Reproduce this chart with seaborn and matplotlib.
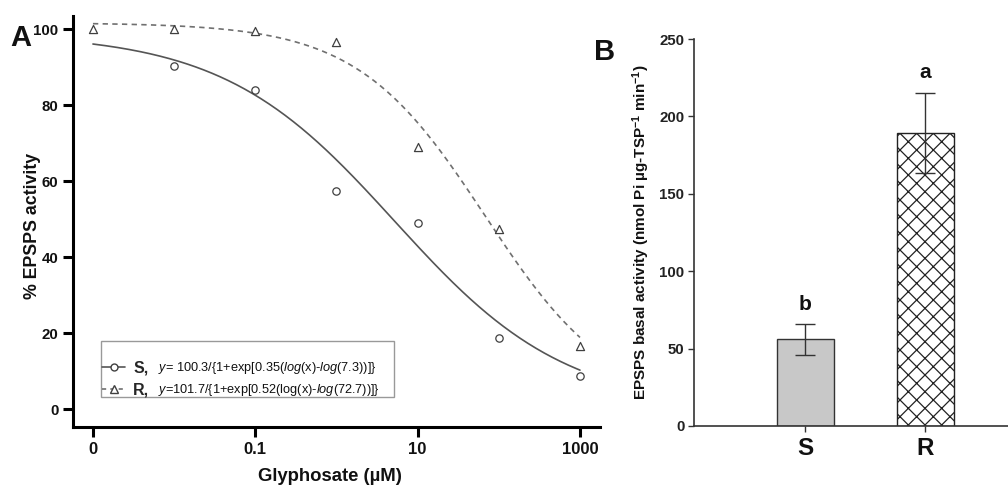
import numpy as np
import pandas as pd
import matplotlib
matplotlib.use("Agg")
import matplotlib.pyplot as plt
from matplotlib.lines import Line2D
from matplotlib.patches import Rectangle
import seaborn as sns

# ---------------- data ----------------
dose_ticks = [0.001, 0.1, 10, 1000]                      # "0" plotted at 0.001
dose_ticklabels = ["0", "0.1", "10", "1000"]
S_dose = [0.01, 0.1, 1, 10, 100, 1000]
S_pct = [90.3, 84.0, 57.4, 49.1, 18.8, 8.7]
R_dose = [0.001, 0.01, 0.1, 1, 10, 100, 1000]
R_pct = [100.2, 100.0, 99.6, 96.6, 69.0, 47.5, 16.7]
# fitted log-logistic curves: top, slope, EC50
S_fit = [99.0, 0.41, 5.2]
R_fit = [101.7, 0.55, 68.0]
S_eq = r"$y$= 100.3/{1+exp[0.35($log$(x)-$log$(7.3))]}"
R_eq = r"$y$=101.7/{1+exp[0.52(log(x)-$log$(72.7))]}"

groups = ["S", "R"]
basal = [56.0, 189.5]
basal_se = [10.0, 26.0]
sig_letters = ["b", "a"]

# ---------------- style ----------------
sns.set_theme(style="ticks")
plt.rcParams["font.family"] = ["Liberation Sans", "DejaVu Sans"]
plt.rcParams["mathtext.fontset"] = "custom"
plt.rcParams["mathtext.rm"] = "Liberation Sans"
plt.rcParams["mathtext.it"] = "Liberation Sans:italic"
plt.rcParams["mathtext.bf"] = "Liberation Sans:bold"
plt.rcParams["hatch.linewidth"] = 0.9

fig = plt.figure(figsize=(10.08, 4.86), dpi=100)
fig.patch.set_facecolor("white")

# ================= Panel A =================
ax1 = fig.add_axes([0.0724, 0.1214, 0.5228, 0.8457])
xs = np.logspace(-3, 3, 300)
def loglogistic(x, p):
    top, b, ec = p
    return top / (1 + np.exp(b * (np.log(x) - np.log(ec))))

curve_df = pd.DataFrame({"x": np.concatenate([xs, xs]),
                         "y": np.concatenate([loglogistic(xs, S_fit), loglogistic(xs, R_fit)]),
                         "g": ["S"] * len(xs) + ["R"] * len(xs)})
sns.lineplot(data=curve_df[curve_df.g == "S"], x="x", y="y", ax=ax1,
             color="#555555", lw=1.2, legend=False)
sns.lineplot(data=curve_df[curve_df.g == "R"], x="x", y="y", ax=ax1,
             color="#707070", lw=1.2, legend=False, linestyle=(0, (3.2, 2.6)))
sns.scatterplot(x=S_dose, y=S_pct, ax=ax1, marker="o", s=28,
                facecolor="white", edgecolor="#404040", linewidth=0.9, zorder=3)
sns.scatterplot(x=R_dose, y=R_pct, ax=ax1, marker="^", s=34,
                facecolor="white", edgecolor="#404040", linewidth=0.9, zorder=3)

ax1.set_xscale("log")
ax1.set_xlim(10 ** -3.246, 10 ** 3.246)
ax1.set_ylim(-4.7, 103.5)
ax1.set_xticks(dose_ticks)
ax1.set_xticklabels(dose_ticklabels)
ax1.minorticks_off()
ax1.set_yticks([0, 20, 40, 60, 80, 100])
for s in ["top", "right"]:
    ax1.spines[s].set_visible(False)
for s in ["left", "bottom"]:
    ax1.spines[s].set_linewidth(2.2)
    ax1.spines[s].set_color("black")
ax1.tick_params(axis="both", direction="out", length=7, width=2.2, color="black",
                labelcolor="#111111", pad=4)
ax1.tick_params(axis="x", labelsize=12)
ax1.tick_params(axis="y", labelsize=10.8, pad=3.5)
for lab in ax1.get_xticklabels() + ax1.get_yticklabels():
    lab.set_fontweight("bold")
ax1.set_xlabel("Glyphosate (µM)", fontsize=13.3, fontweight="bold", color="#111111")
ax1.set_ylabel("% EPSPS activity", fontsize=12.8, fontweight="bold", color="#111111")
ax1.xaxis.set_label_coords(0.488, -0.100)
ax1.yaxis.set_label_coords(-0.060, 0.49)

# legend
handles = [Line2D([], [], color="#555555", lw=1.2, marker="o", markersize=5,
                  markerfacecolor="white", markeredgecolor="#404040"),
           Line2D([], [], color="#707070", lw=1.2, linestyle=(0, (2.5, 2.5)), marker="^",
                  markersize=5.5, markerfacecolor="white", markeredgecolor="#404040")]
leg = ax1.legend(handles, [g + "," for g in groups], loc="center left",
                 bbox_to_anchor=(0.055, 0.117), frameon=False, borderpad=0, borderaxespad=0,
                 handlelength=1.45, handletextpad=0.5, labelspacing=0.42,
                 prop={"weight": "bold", "size": 11.5})
ax1.add_patch(Rectangle((0.053, 0.073), 0.556, 0.137, transform=ax1.transAxes,
                        facecolor="none", edgecolor="#999999", lw=1, clip_on=False, zorder=4))
ax1.text(0.161, 0.143, S_eq, transform=ax1.transAxes, fontsize=9.2, va="center",
         ha="left", color="#111111")
ax1.text(0.161, 0.090, R_eq, transform=ax1.transAxes, fontsize=9.2, va="center",
         ha="left", color="#111111")

# ================= Panel B =================
ax2 = fig.add_axes([0.6885, 0.1235, 0.3115, 0.796])
bar_df = pd.DataFrame({"group": groups, "value": basal})
sns.barplot(data=bar_df, x="group", y="value", hue="group", palette=["#c8c8c8", "white"],
            order=groups, hue_order=groups, width=0.475, errorbar=None, legend=False,
            edgecolor="#333333", linewidth=1.0, ax=ax2)
for p in ax2.patches:
    cx = p.get_x() + p.get_width() / 2
    if abs(cx - 1) < 0.3:
        p.set_hatch("xx")
        p.set_facecolor("white")
        p.set_edgecolor("#222222")
ax2.errorbar(x=[0, 1], y=basal, yerr=basal_se, fmt="none", ecolor="#333333",
             elinewidth=1.0, capsize=7.5, capthick=1.0, zorder=5)
for i, (v, e, l) in enumerate(zip(basal, basal_se, sig_letters)):
    ax2.text(i, v + e + 6.5, l, ha="center", va="bottom", fontsize=15,
             fontweight="bold", color="#111111")

ax2.set_xlim(-0.925, 1.69)
ax2.set_ylim(0, 250)
ax2.set_yticks([0, 50, 100, 150, 200, 250])
for s in ["top", "right"]:
    ax2.spines[s].set_visible(False)
for s in ["left", "bottom"]:
    ax2.spines[s].set_linewidth(1.2)
    ax2.spines[s].set_color("#333333")
ax2.tick_params(axis="y", direction="out", length=4, width=1, color="#333333",
                labelsize=10.8, labelcolor="#222222", pad=3)
ax2.tick_params(axis="x", direction="out", length=4, width=1, color="#333333",
                labelsize=17.5, labelcolor="#111111", pad=4)
for lab in ax2.get_xticklabels() + ax2.get_yticklabels():
    lab.set_fontweight("bold")
ax2.set_xlabel("")
ax2.set_ylabel(r"EPSPS basal activity (nmol Pi µg-TSP$^{\mathbf{-1}}$ min$^{\mathbf{-1}}$)",
               fontsize=11, fontweight="bold", color="#111111")
ax2.yaxis.set_label_coords(-0.133, 0.5)

fig.text(21 / 1008, 1 - 38 / 486, "A", fontsize=21, fontweight="bold",
         ha="center", va="center", color="#111111")
fig.text(605 / 1008, 1 - 52 / 486, "B", fontsize=21, fontweight="bold",
         ha="center", va="center", color="#111111")

fig.savefig("out.png", dpi=100, facecolor="white")
